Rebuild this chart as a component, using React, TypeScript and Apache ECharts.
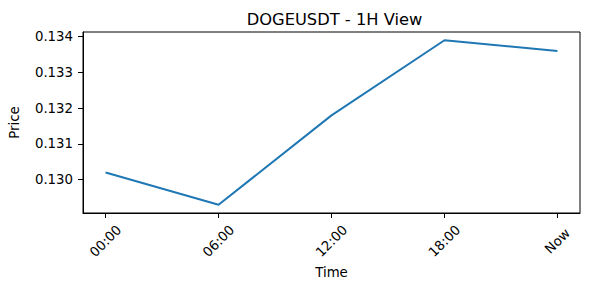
import React, { useEffect, useRef } from "react";
import * as echarts from "echarts";

const timeLabels = ["00:00", "06:00", "12:00", "18:00", "Now"];
const prices = [0.1302, 0.1293, 0.1318, 0.1339, 0.1336];
const yTicks = [0.13, 0.131, 0.132, 0.133, 0.134];
const xTicks = [0, 1, 2, 3, 4];

export default function App() {
  const ref = useRef<HTMLDivElement>(null);
  useEffect(() => {
    if (!ref.current) return;
    const chart = echarts.init(ref.current, null, { renderer: "svg" });
    const font = "DejaVu Sans";
    const lo = Math.min(...prices);
    const hi = Math.max(...prices);
    const pad = (hi - lo) * 0.05;
    const n = timeLabels.length - 1;
    chart.setOption({
      animation: false,
      backgroundColor: "#ffffff",
      textStyle: { fontFamily: font },
      title: {
        text: "DOGEUSDT - 1H View",
        left: 329.5,
        textAlign: "center",
        top: 6,
        textStyle: { fontFamily: font, fontSize: 16.3, fontWeight: "normal", color: "#000" },
      },
      grid: {
        left: 79,
        right: 9,
        top: 32,
        bottom: 77,
        show: true,
        borderColor: "#000",
        borderWidth: 1,
        containLabel: false,
      },
      xAxis: {
        type: "value",
        min: -n * 0.05,
        max: n * 1.05,
        name: "Time",
        nameLocation: "middle",
        nameGap: 58,
        nameTextStyle: { fontFamily: font, fontSize: 13.3, color: "#000", verticalAlign: "middle" },
        axisLine: { show: true, onZero: false, lineStyle: { color: "#000", width: 1 } },
        axisTick: { show: true, inside: false, length: 5, lineStyle: { color: "#000" }, customValues: xTicks },
        splitLine: { show: false },
        axisLabel: {
          customValues: xTicks,
          rotate: 45,
          align: "center",
          verticalAlign: "middle",
          margin: 28,
          fontFamily: font,
          fontSize: 13.3,
          color: "#000",
          formatter: (v: number) => timeLabels[Math.round(v)] ?? "",
        },
      },
      yAxis: {
        type: "value",
        min: lo - pad,
        max: hi + pad,
        name: "Price",
        nameLocation: "middle",
        nameGap: 62,
        nameRotate: 90,
        nameTextStyle: { fontFamily: font, fontSize: 13.3, color: "#000" },
        axisLine: { show: true, onZero: false, lineStyle: { color: "#000", width: 1 } },
        axisTick: { show: true, inside: false, length: 5, lineStyle: { color: "#000" }, customValues: yTicks },
        splitLine: { show: false },
        axisLabel: {
          customValues: yTicks,
          margin: 10,
          fontFamily: font,
          fontSize: 13.3,
          color: "#000",
          formatter: (v: number) => v.toFixed(3),
        },
      },
      series: [
        {
          type: "line",
          data: prices.map((p, i) => [i, p]),
          showSymbol: false,
          symbol: "none",
          lineStyle: { color: "#1f77b4", width: 2 },
          itemStyle: { color: "#1f77b4" },
        },
      ],
    });
    return () => chart.dispose();
  }, []);
  return (
    <div
      ref={ref}
      style={{ position: "fixed", left: 0, top: 0, width: 589, height: 290, background: "#fff" }}
    />
  );
}
